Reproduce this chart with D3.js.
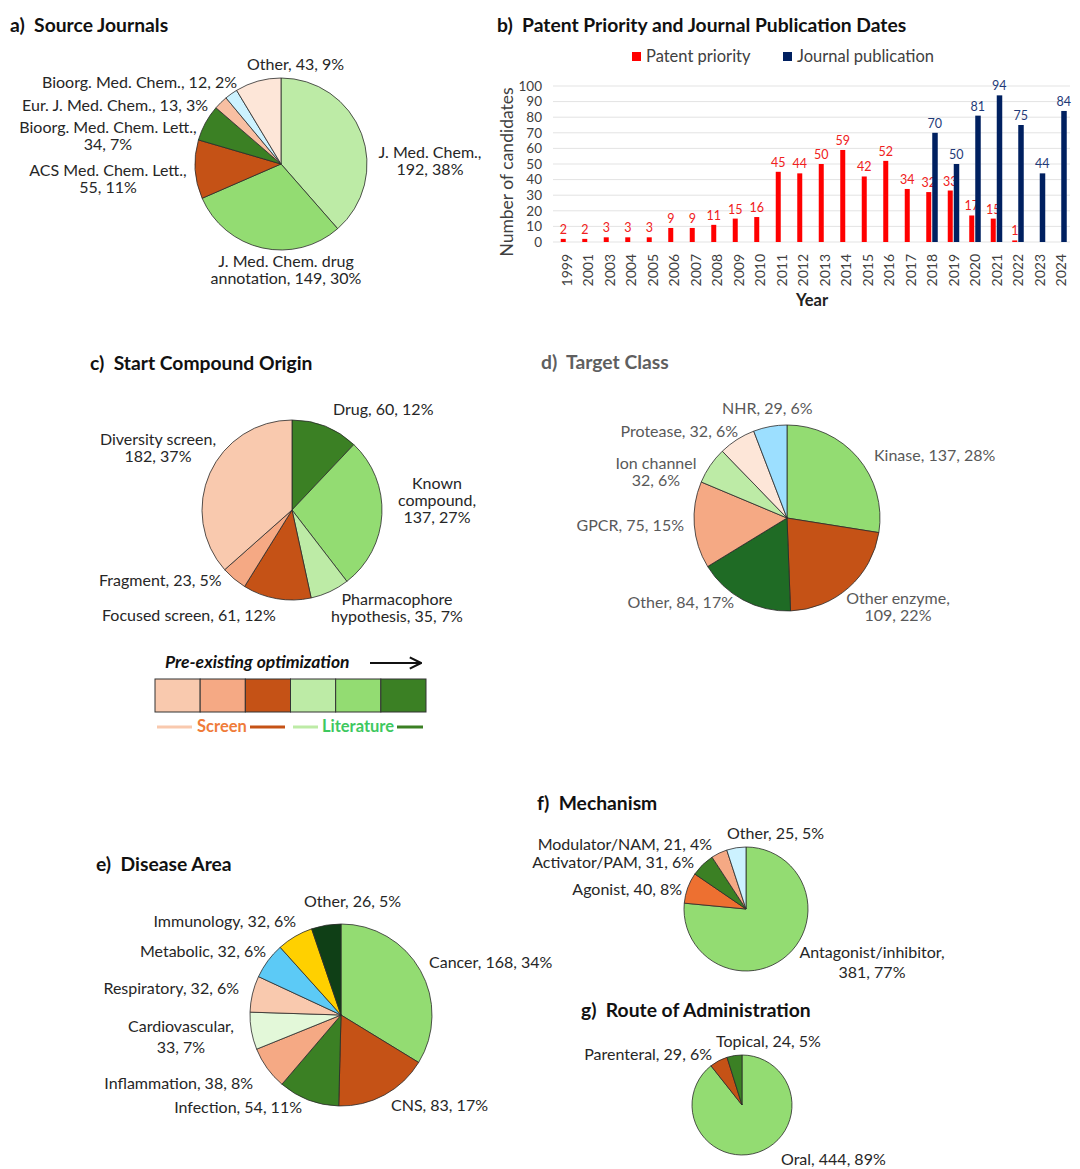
<!DOCTYPE html>
<html>
<head>
<meta charset="utf-8">
<script src="https://cdn.jsdelivr.net/npm/d3@7"></script>
<style>
  body { margin: 0; background: #fff; }
  svg { font-family: Lato, "Open Sans", sans-serif; }
  .ttl { font-weight: bold; font-size: 19.3px; fill: #111; white-space: pre; }
  .lbl { font-size: 16px; fill: #262626; }
</style>
</head>
<body>
<svg id="fig" width="1080" height="1169"></svg>
<script>
// a) source journals
var journalNames = ["J. Med. Chem.", "J. Med. Chem. drug annotation", "ACS Med. Chem. Lett.", "Bioorg. Med. Chem. Lett.", "Eur. J. Med. Chem.", "Bioorg. Med. Chem.", "Other"];
var journalCounts = [192, 149, 55, 34, 13, 12, 43];
var journalPct = [38, 30, 11, 7, 3, 2, 9];

// b) patent priority / journal publication by year
var years = ["1999", "2001", "2003", "2004", "2005", "2006", "2007", "2008", "2009", "2010", "2011", "2012", "2013", "2014", "2015", "2016", "2017", "2018", "2019", "2020", "2021", "2022", "2023", "2024"];
var patentCounts = [2, 2, 3, 3, 3, 9, 9, 11, 15, 16, 45, 44, 50, 59, 42, 52, 34, 32, 33, 17, 15, 1, null, null];
var journalPubCounts = [null, null, null, null, null, null, null, null, null, null, null, null, null, null, null, null, null, 70, 50, 81, 94, 75, 44, 84];
var yTicks = [0, 10, 20, 30, 40, 50, 60, 70, 80, 90, 100];

// c) start compound origin
var originNames = ["Drug", "Known compound", "Pharmacophore hypothesis", "Focused screen", "Fragment", "Diversity screen"];
var originCounts = [60, 137, 35, 61, 23, 182];
var originPct = [12, 27, 7, 12, 5, 37];
var scaleSteps = ["Diversity screen", "Fragment", "Focused screen", "Pharmacophore hypothesis", "Known compound", "Drug"];

// d) target class
var targetNames = ["Kinase", "Other enzyme", "Other", "GPCR", "Ion channel", "Protease", "NHR"];
var targetCounts = [137, 109, 84, 75, 32, 32, 29];
var targetPct = [28, 22, 17, 15, 6, 6, 6];

// e) disease area
var diseaseNames = ["Cancer", "CNS", "Infection", "Inflammation", "Cardiovascular", "Respiratory", "Metabolic", "Immunology", "Other"];
var diseaseCounts = [168, 83, 54, 38, 33, 32, 32, 32, 26];
var diseasePct = [34, 17, 11, 8, 7, 6, 6, 6, 5];

// f) mechanism
var mechNames = ["Antagonist/inhibitor", "Agonist", "Activator/PAM", "Modulator/NAM", "Other"];
var mechCounts = [381, 40, 31, 21, 25];
var mechPct = [77, 8, 6, 4, 5];

// g) route
var routeNames = ["Oral", "Parenteral", "Topical"];
var routeCounts = [444, 29, 24];
var routePct = [89, 6, 5];

// colours
var lightPeach = "#f9c9ae", salmon = "#f5a984", rust = "#c55216",
    paleGreen = "#bdeba6", midGreen = "#93dc72", darkGreen = "#3b8024";

var svg = d3.select("#fig");

function title(x, y, txt, col) {
    svg.append("text").attr("class", "ttl").attr("x", x).attr("y", y)
        .attr("xml:space", "preserve")
        .style("fill", col || "#111").text(txt);
}

// label layout: x, y (first baseline), anchor, words per line, no comma after name
function drawPie(cx, cy, r, names, counts, pct, colors, layout, txtCol) {
    var g = svg.append("g");
    var arcs = d3.pie().sort(null)(counts);
    var arc = d3.arc().innerRadius(0).outerRadius(r);

    // labels first, pie on top (like the original)
    arcs.forEach(function (d, i) {
        var L = layout[i];
        var full = names[i] + (L.noComma ? "" : ",") + " " + counts[i] + ", " + pct[i] + "%";
        var words = full.split(" ");
        var lines = [];
        if (L.w) {
            var k = 0;
            L.w.forEach(function (n) { lines.push(words.slice(k, k + n).join(" ")); k += n; });
        } else lines.push(full);
        var t = g.append("text").attr("class", "lbl")
            .attr("text-anchor", L.a || "start")
            .style("fill", txtCol || "#262626");
        lines.forEach(function (s, j) {
            t.append("tspan").attr("x", L.x).attr("y", L.y + j * (L.lh || 17)).text(s);
        });
    });

    g.selectAll("path").data(arcs).enter().append("path")
        .attr("transform", "translate(" + cx + "," + cy + ")")
        .attr("d", arc)
        .attr("fill", function (d, i) { return colors[i]; })
        .attr("stroke", "#2a2a2a")
        .attr("stroke-width", 0.8);
}

// ---- a
title(10, 32, "a)  Source Journals");
drawPie(281, 164, 86, journalNames, journalCounts, journalPct,
    [paleGreen, midGreen, rust, darkGreen, "#f8bfa2", "#ccf2ff", "#fde6d8"],
    [{x: 430, y: 158, a: "middle", w: [3, 2]},
     {x: 286, y: 267, a: "middle", w: [4, 3]},
     {x: 108, y: 176, a: "middle", w: [4, 2]},
     {x: 108, y: 133, a: "middle", w: [4, 2]},
     {x: 208, y: 111, a: "end"},
     {x: 237, y: 88, a: "end"},
     {x: 247, y: 70}]);

// ---- b
title(497, 32, "b)  Patent Priority and Journal Publication Dates");

var red = "#ff0000", navy = "#002060";
var x = d3.scaleBand().domain(years).range([556, 1072]);
var y = d3.scaleLinear().domain([0, 100]).range([242, 86]);
var bw = x.bandwidth();

var b = svg.append("g");
b.selectAll("line.grid").data(yTicks).enter().append("line")
    .attr("class", "grid")
    .attr("x1", x.range()[0] - 3).attr("x2", x.range()[1] - 2)
    .attr("y1", function (d) { return y(d); }).attr("y2", function (d) { return y(d); })
    .attr("stroke", "#e3e3e3").attr("stroke-width", 1);

b.selectAll("text.ytick").data(yTicks).enter().append("text")
    .attr("class", "ytick")
    .attr("x", 542).attr("y", function (d) { return y(d); }).attr("dy", "0.35em")
    .attr("text-anchor", "end").style("font-size", "13.5px").style("fill", "#404040")
    .text(function (d) { return d; });

b.selectAll("text.xtick").data(years).enter().append("text")
    .attr("class", "xtick")
    .attr("transform", function (d) { return "translate(" + (x(d) + bw / 2) + ",254) rotate(-90)"; })
    .attr("dy", "0.35em").attr("text-anchor", "end")
    .style("font-size", "14px").style("fill", "#404040")
    .text(function (d) { return d; });

b.append("text").attr("transform", "translate(513,172) rotate(-90)")
    .attr("text-anchor", "middle").style("font-size", "17.5px").style("fill", "#404040")
    .text("Number of candidates");
b.append("text").attr("x", 812).attr("y", 306).attr("text-anchor", "middle")
    .style("font-size", "16.5px").style("font-weight", "bold").style("fill", "#222")
    .text("Year");

var pat = years.map(function (yr, i) { return {yr: yr, v: patentCounts[i]}; }).filter(function (d) { return d.v != null; });
var jou = years.map(function (yr, i) { return {yr: yr, v: journalPubCounts[i]}; }).filter(function (d) { return d.v != null; });

b.selectAll("rect.pat").data(pat).enter().append("rect")
    .attr("class", "pat")
    .attr("x", function (d) { return x(d.yr) + bw / 2 - 6; })
    .attr("width", 5)
    .attr("y", function (d) { return y(d.v); })
    .attr("height", function (d) { return y(0) - y(d.v); })
    .attr("fill", red);
b.selectAll("text.pat").data(pat).enter().append("text")
    .attr("class", "pat")
    .attr("x", function (d) { return x(d.yr) + bw / 2 - 3.5; })
    .attr("y", function (d) { return y(d.v) - 5; })
    .attr("text-anchor", "middle").style("font-size", "12.5px").style("fill", "#f02020")
    .text(function (d) { return d.v; });

b.selectAll("rect.jou").data(jou).enter().append("rect")
    .attr("class", "jou")
    .attr("x", function (d) { return x(d.yr) + bw / 2; })
    .attr("width", 5.5)
    .attr("y", function (d) { return y(d.v); })
    .attr("height", function (d) { return y(0) - y(d.v); })
    .attr("fill", navy);
b.selectAll("text.jou").data(jou).enter().append("text")
    .attr("class", "jou")
    .attr("x", function (d) { return x(d.yr) + bw / 2 + 2.5; })
    .attr("y", function (d) { return y(d.v) - 5; })
    .attr("text-anchor", "middle").style("font-size", "12.5px").style("fill", "#1f3a78")
    .text(function (d) { return d.v; });

// legend
var leg = [{t: "Patent priority", c: red, x: 632}, {t: "Journal publication", c: navy, x: 783}];
leg.forEach(function (d) {
    b.append("rect").attr("x", d.x).attr("y", 52).attr("width", 9).attr("height", 9).attr("fill", d.c);
    b.append("text").attr("x", d.x + 14).attr("y", 62).style("font-size", "16.5px").style("fill", "#404040").text(d.t);
});

// ---- c
title(90, 370, "c)  Start Compound Origin");
drawPie(292, 510, 90, originNames, originCounts, originPct,
    [darkGreen, midGreen, paleGreen, rust, salmon, lightPeach],
    [{x: 333, y: 415},
     {x: 437, y: 489, a: "middle", w: [1, 1, 2]},
     {x: 397, y: 605, a: "middle", w: [1, 3]},
     {x: 102, y: 621},
     {x: 99, y: 586},
     {x: 158, y: 445, a: "middle", w: [2, 2]}]);

// origin scale legend
var sc = svg.append("g");
var sx = d3.scaleBand().domain(scaleSteps).range([155, 426]);
var scaleCols = [lightPeach, salmon, rust, paleGreen, midGreen, darkGreen];
sc.selectAll("rect").data(scaleSteps).enter().append("rect")
    .attr("x", function (d) { return sx(d); }).attr("y", 679)
    .attr("width", sx.bandwidth()).attr("height", 33)
    .attr("fill", function (d, i) { return scaleCols[i]; })
    .attr("stroke", "#333").attr("stroke-width", 1);
sc.append("text").attr("x", 165).attr("y", 668)
    .style("font-size", "17.5px").style("font-weight", "bold").style("font-style", "italic").style("fill", "#111")
    .text("Pre-existing optimization");
sc.append("defs").append("marker").attr("id", "arr").attr("viewBox", "0 0 10 10")
    .attr("refX", 9).attr("refY", 5).attr("markerWidth", 7).attr("markerHeight", 7).attr("orient", "auto")
    .append("path").attr("d", "M1,1 L9,5 L1,9").attr("fill", "none").attr("stroke", "#111").attr("stroke-width", 1.5);
sc.append("line").attr("x1", 370).attr("x2", 421).attr("y1", 663).attr("y2", 663)
    .attr("stroke", "#111").attr("stroke-width", 2).attr("marker-end", "url(#arr)");

var under = [
    {x1: 157, x2: 192, c: lightPeach}, {x1: 250, x2: 285, c: rust},
    {x1: 293, x2: 318, c: paleGreen}, {x1: 397, x2: 423, c: darkGreen}];
under.forEach(function (d) {
    sc.append("line").attr("x1", d.x1).attr("x2", d.x2).attr("y1", 727).attr("y2", 727)
        .attr("stroke", d.c).attr("stroke-width", 3);
});
sc.append("text").attr("x", 222).attr("y", 732).attr("text-anchor", "middle")
    .style("font-size", "16.5px").style("font-weight", "bold").style("fill", "#ef7c3a").text("Screen");
sc.append("text").attr("x", 358).attr("y", 732).attr("text-anchor", "middle")
    .style("font-size", "16.5px").style("font-weight", "bold").style("fill", "#3ec85f").text("Literature");

// ---- d
title(541, 369, "d)  Target Class", "#5f5f5f");
drawPie(787, 518, 93, targetNames, targetCounts, targetPct,
    [midGreen, rust, "#1f6b25", salmon, paleGreen, "#fde6d8", "#9cdfff"],
    [{x: 874, y: 461},
     {x: 898, y: 604, a: "middle", w: [2, 2]},
     {x: 734, y: 608, a: "end"},
     {x: 684, y: 531, a: "end"},
     {x: 656, y: 469, a: "middle", w: [2, 2], noComma: true},
     {x: 738, y: 437, a: "end"},
     {x: 722, y: 414}], "#595959");

// ---- e
title(96, 871, "e)  Disease Area");
drawPie(341, 1015, 91, diseaseNames, diseaseCounts, diseasePct,
    [midGreen, rust, darkGreen, salmon, "#e3f8d9", lightPeach, "#5ccaf6", "#ffd000", "#0f3f16"],
    [{x: 429, y: 968},
     {x: 391, y: 1111},
     {x: 302, y: 1113, a: "end"},
     {x: 253, y: 1089, a: "end"},
     {x: 181, y: 1032, a: "middle", w: [1, 2], lh: 21},
     {x: 239, y: 994, a: "end"},
     {x: 266, y: 957, a: "end"},
     {x: 296, y: 927, a: "end"},
     {x: 304, y: 907}]);

// ---- f
title(537, 810, "f)  Mechanism");
drawPie(746, 909, 62, mechNames, mechCounts, mechPct,
    [midGreen, "#ed7031", darkGreen, salmon, "#ccf2ff"],
    [{x: 872, y: 958, a: "middle", w: [1, 2], lh: 20},
     {x: 682, y: 895, a: "end"},
     {x: 694, y: 868, a: "end"},
     {x: 712, y: 850, a: "end"},
     {x: 727, y: 839}]);

// ---- g
title(581, 1017, "g)  Route of Administration");
drawPie(742, 1105, 50, routeNames, routeCounts, routePct,
    [midGreen, rust, darkGreen],
    [{x: 781, y: 1165},
     {x: 712, y: 1060, a: "end"},
     {x: 716, y: 1047}]);
</script>
</body>
</html>
